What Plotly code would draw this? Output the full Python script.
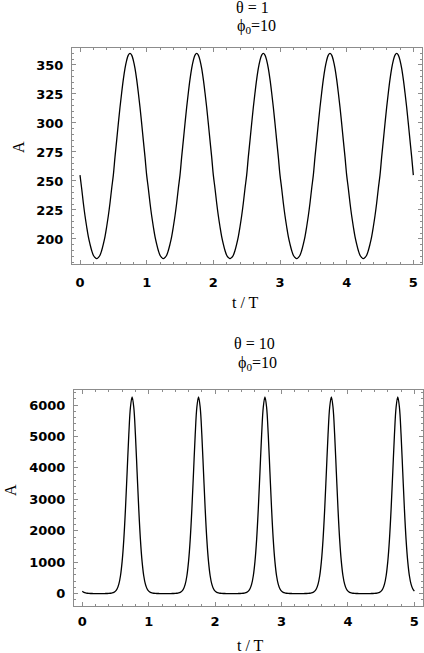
import numpy as np
import plotly.graph_objects as go

t_step = 0.025
n_periods = 5

a_theta1_period = [255, 243.5, 231, 220, 210.5, 202, 195.5, 190, 186, 184,
                   183, 184, 186, 190, 195.5, 202, 210.5, 220, 231, 243.5,
                   255, 270.7, 285, 299.5, 313.5, 326, 337.5, 347, 354, 358.5,
                   360, 358.5, 354, 347, 337.5, 326, 313.5, 299.5, 285, 270.7]

a_theta10_period = [77, 38, 20, 11, 6, 3.5, 2, 1.5, 1.2, 1,
                    1, 1, 1.2, 1.5, 2, 3.5, 6, 11, 20, 38,
                    77, 153, 299, 568, 1025, 1725, 2700, 3870, 5050, 5930,
                    6260, 5930, 5050, 3870, 2700, 1725, 1025, 568, 299, 153]

titles = [("θ = 1", "ϕ<sub>0</sub>=10"), ("θ = 10", "ϕ<sub>0</sub>=10")]
x_ticks = [0, 1, 2, 3, 4, 5]
y_ticks_top = [200, 225, 250, 275, 300, 325, 350]
y_ticks_bottom = [0, 1000, 2000, 3000, 4000, 5000, 6000]

W, H = 424, 653


def build(period):
    a = period * n_periods + [period[0]]
    t = np.arange(len(a)) * t_step
    return t, a


t1, a1 = build(a_theta1_period)
t2, a2 = build(a_theta10_period)

fig = go.Figure()
fig.add_trace(go.Scatter(x=t1, y=a1, mode="lines", line=dict(color="black", width=1.3, shape="spline"),
                         xaxis="x", yaxis="y", showlegend=False))
fig.add_trace(go.Scatter(x=t2, y=a2, mode="lines", line=dict(color="black", width=1.3, shape="spline"),
                         xaxis="x2", yaxis="y2", showlegend=False))

tickfont = dict(family="DejaVu Sans", size=13, color="black", weight="bold")
frame = dict(showline=True, linecolor="#8c8c8c", linewidth=1, mirror="allticks",
             ticks="inside", ticklen=4, tickcolor="#8c8c8c", tickwidth=1,
             showgrid=False, zeroline=False, tickfont=tickfont)


def px_x(v):
    return v / W


def px_y(v):
    return 1 - v / H


fig.update_layout(
    width=W, height=H,
    margin=dict(l=0, r=0, t=0, b=0),
    paper_bgcolor="white", plot_bgcolor="white",
    xaxis=dict(frame, domain=[px_x(72), px_x(422)], range=[-0.12, 5.13], anchor="y",
               tickvals=x_ticks, ticklabelstandoff=6,
               minor=dict(dtick=0.2, ticks="inside", ticklen=2, tickcolor="#8c8c8c")),
    yaxis=dict(frame, domain=[px_y(264), px_y(48)], range=[178.4, 364.6], anchor="x",
               tickvals=y_ticks_top, ticklabelstandoff=5,
               minor=dict(dtick=5, ticks="inside", ticklen=2, tickcolor="#8c8c8c")),
    xaxis2=dict(frame, domain=[px_x(74), px_x(423)], range=[-0.125, 5.13], anchor="y2",
                tickvals=x_ticks, ticklabelstandoff=3,
                minor=dict(dtick=0.2, ticks="inside", ticklen=2, tickcolor="#8c8c8c")),
    yaxis2=dict(frame, domain=[px_y(606), px_y(390)], range=[-395, 6478], anchor="x2",
                tickvals=y_ticks_bottom, ticklabelstandoff=5,
                minor=dict(dtick=200, ticks="inside", ticklen=2, tickcolor="#8c8c8c")),
)

serif = dict(family="Liberation Serif", size=16, color="black")
labels = [
    (titles[0][0], 252, 8, 0), (titles[0][1], 256, 27, 0),
    ("A", 18, 147, -90), ("t / T", 245, 302, 0),
    (titles[1][0], 255, 343, 0), (titles[1][1], 257, 363, 0),
    ("A", 10, 490, -90), ("t / T", 250, 645, 0),
]
for text, x, y, ang in labels:
    fig.add_annotation(text=text, x=px_x(x), y=px_y(y), xref="paper", yref="paper",
                       xanchor="center", yanchor="middle", showarrow=False,
                       textangle=ang, font=serif)

# page body has a default margin that would push the figure off the window
fig.write_html("out.html", config={"displayModeBar": False},
               post_script="document.body.style.margin='0';")
